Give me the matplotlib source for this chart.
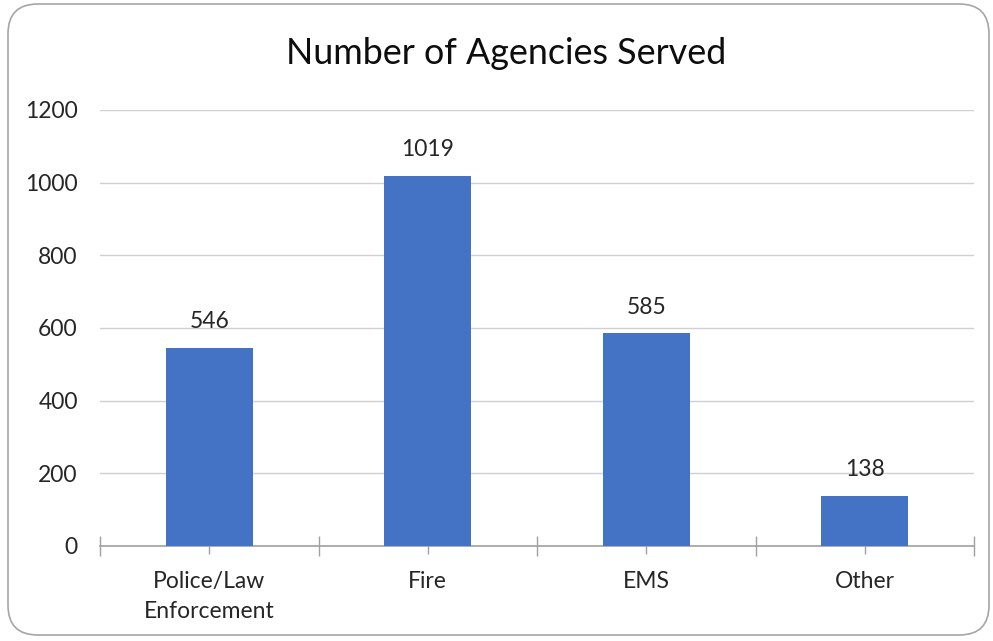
import matplotlib
matplotlib.use("Agg")
import matplotlib.pyplot as plt
from matplotlib.patches import FancyBboxPatch
import numpy as np

categories = ["Police/Law\nEnforcement", "Fire", "EMS", "Other"]
values = [546, 1019, 585, 138]
yticks = [0, 200, 400, 600, 800, 1000, 1200]

plt.rcParams['font.family'] = ['Lato', 'DejaVu Sans']

fig = plt.figure(figsize=(9.93, 6.41), dpi=100)
border = FancyBboxPatch((8/993, 6/641), 981/993, 631/641,
                        boxstyle="round,pad=0,rounding_size=0.03",
                        transform=fig.transFigure, facecolor='none',
                        edgecolor='#a6a6a6', linewidth=1.2, mutation_aspect=993/641,
                        zorder=-1)
fig.patches.append(border)

ax = fig.add_axes([100/993, 95/641, 874/993, 436/641])
ax.set_facecolor('none')
x = np.arange(len(categories))
bars = ax.bar(x, values, width=0.4, color='#4472c4', zorder=3)
for xi, v in zip(x, values):
    ax.annotate(str(v), (xi, v), xytext=(0, 19), textcoords='offset points',
                ha='center', va='center', fontsize=16.5, color='#262626')

ax.set_xlim(-0.5, len(categories) - 0.5)
ax.set_ylim(0, 1200)
ax.set_yticks(yticks)
ax.set_yticklabels([str(t) for t in yticks], fontsize=16.5, color='#262626')
ax.yaxis.grid(True, color='#d0d0d0', linewidth=1)
ax.set_axisbelow(True)
ax.tick_params(axis='y', length=0, pad=16)

ax.set_xticks(np.arange(-0.5, len(categories), 1.0))
ax.set_xticklabels([])
ax.set_xticks(x, minor=True)
ax.set_xticklabels(categories, minor=True, fontsize=16.5, color='#262626', linespacing=1.5)
ax.tick_params(axis='x', which='major', direction='inout', length=14, color='#a0a0a0', width=1)
ax.tick_params(axis='x', which='minor', direction='inout', length=12, color='#a0a0a0', width=1, pad=12)

for s in ['top', 'right', 'left']:
    ax.spines[s].set_visible(False)
ax.spines['bottom'].set_color('#a0a0a0')
ax.spines['bottom'].set_linewidth(1.2)

fig.text(506/993, 1 - 54/641, "Number of Agencies Served", ha='center', va='center',
         fontsize=25.8, color='#0d0d0d')

fig.savefig("out.png", dpi=100)
